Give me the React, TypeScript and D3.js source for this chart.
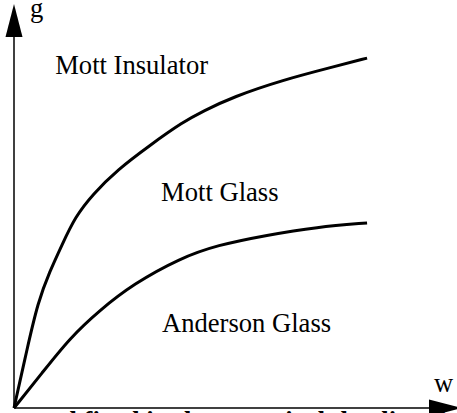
import React from "react";
import * as d3 from "d3";

// phase boundaries, w (disorder) vs g, in arbitrary units 0..100
const upperW = [0, 2.9, 5.4, 8.1, 10.8, 13.8, 17.8, 23.3, 30.7, 38.1, 42.7, 49.4, 60.7, 72, 79.7];
const upperG = [0, 14.3, 26.2, 33.8, 40.2, 47.2, 52.8, 58.8, 64.9, 70.6, 73.3, 76.8, 81, 84.2, 86.4];
const lowerW = [0, 6.3, 12.6, 19.4, 26.9, 37.5, 45.8, 57.1, 68.4, 79.7];
const lowerG = [0, 8.6, 17.3, 24.2, 30.6, 37, 40.2, 42.7, 44.7, 45.7];

const phaseNames = ["Mott Insulator", "Mott Glass", "Anderson Glass"];
const phaseW = [9.3, 33.2, 33.4];
const phaseG = [82.5, 51.1, 18.8];

const width = 457;
const height = 413;

export default function App() {
  const x = d3.scaleLinear([0, 100], [14, 457]);
  const y = d3.scaleLinear([0, 100], [408, 3]);
  const line = d3
    .line<[number, number]>()
    .x((d) => x(d[0]))
    .y((d) => y(d[1]))
    .curve(d3.curveBasis);

  const upper = upperW.map((w, i) => [w, upperG[i]] as [number, number]);
  const lower = lowerW.map((w, i) => [w, lowerG[i]] as [number, number]);
  const font = "'Liberation Serif', 'Times New Roman', serif";
  const x0 = x(0);
  const y0 = y(0);

  return (
    <svg
      width={width}
      height={height}
      style={{ position: "absolute", left: 0, top: 0, background: "#fff" }}
    >
      {/* axes */}
      <line x1={x0} y1={y0} x2={x0} y2={37} stroke="#000" strokeWidth={1.5} />
      <line x1={x0} y1={y0} x2={430} y2={y0} stroke="#000" strokeWidth={1.5} />
      <path d={`M${x0},4 L${x0 - 8.5},37 L${x0 + 8.5},37 Z`} fill="#000" />
      <path d={`M462,${y0} L429,${y0 - 8.5} L429,${y0 + 8.5} Z`} fill="#000" />
      <text x={30} y={17} fontFamily={font} fontSize={26.6}>g</text>
      <text x={434} y={392} fontFamily={font} fontSize={26.6}>w</text>

      {/* boundaries */}
      <path d={line(upper) ?? ""} fill="none" stroke="#000" strokeWidth={3} />
      <path d={line(lower) ?? ""} fill="none" stroke="#000" strokeWidth={3} />

      {phaseNames.map((name, i) => (
        <text key={name} x={x(phaseW[i])} y={y(phaseG[i])} fontFamily={font} fontSize={26.6}>
          {name}
        </text>
      ))}

      {/* caption cut off at the bottom of the page */}
      <text x={34} y={430} fontFamily={font} fontSize={26.6} fontWeight="bold">
        and fixed in the canonical the disorder
      </text>
    </svg>
  );
}
